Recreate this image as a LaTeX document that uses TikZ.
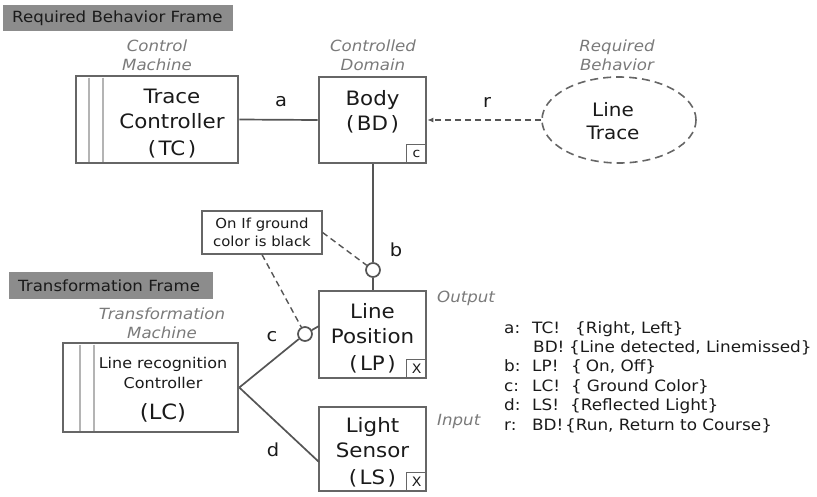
\documentclass[tikz,border=0pt]{standalone}
\usepackage{fontspec}
\setmainfont{DejaVu Sans}[FakeStretch=1.08]
\usetikzlibrary{shapes.geometric,arrows.meta,calc}
\definecolor{boxline}{HTML}{666666}
\definecolor{stripe}{HTML}{B4B4B4}
\definecolor{wire}{HTML}{555555}
\definecolor{roletext}{HTML}{7A7A7A}
\definecolor{bannerfill}{HTML}{8C8C8C}
\definecolor{ink}{HTML}{1A1A1A}
\newcommand\fsz[2]{\fontsize{#1}{#2}\selectfont}
\newcommand\wpar[1]{(\kern2.5pt#1\kern2.5pt)}
\tikzset{
  dombox/.style={draw=boxline, line width=2.6pt, inner sep=0pt, fill=white},
  stripeline/.style={draw=stripe, line width=2pt},
  tagbox/.style={draw=boxline, line width=1.4pt, minimum width=20pt, minimum height=19pt,
    inner sep=0pt, text=ink, font=\fsz{13}{13}},
  boxtext/.style={align=center, text=ink, font=\fsz{19.8}{25}, inner sep=0pt},
  roletxt/.style={align=center, text=roletext, font=\fsz{15.4}{19}\itshape, inner sep=0pt},
  banner/.style={fill=bannerfill, inner sep=0pt},
  bannertxt/.style={anchor=west, text=ink, font=\fsz{15.4}{16}, inner sep=0pt},
  wirel/.style={draw=wire, line width=1.7pt},
  dashl/.style={draw=wire, line width=1.4pt, dash pattern=on 6pt off 4pt},
  port/.style={circle, draw=wire, line width=1.7pt, fill=white, minimum size=14pt, inner sep=0pt},
  lbl/.style={text=ink, font=\fsz{18}{18}, inner sep=0pt},
  legend/.style={anchor=base west, text=ink, font=\fsz{15.6}{16}, inner sep=0pt},
}
\begin{document}
\begin{tikzpicture}[x=1pt,y=-1pt]
\useasboundingbox (0,0) rectangle (817,496);

% frame banners
\node[banner, minimum width=230pt, minimum height=26pt] (bnr1) at (118,18) {};
\node[bannertxt] (bnr1t) at (12,18) {Required Behavior Frame};
\node[banner, minimum width=204pt, minimum height=27pt] (bnr2) at (111,285.5) {};
\node[bannertxt] (bnr2t) at (18,285.5) {Transformation Frame};

% role labels
\node[roletxt] (rcm) at (157,55) {Control\\Machine};
\node[roletxt] (rcd) at (373,55) {Controlled\\Domain};
\node[roletxt] (rrb) at (617,55) {Required\\Behavior};
\node[roletxt] (rtm) at (162,323) {Transformation\\Machine};
\node[roletxt, anchor=west] (rout) at (437,298) {Output};
\node[roletxt, anchor=west] (rin) at (437,421) {Input};

% Trace Controller (machine)
\node[dombox, minimum width=162pt, minimum height=87pt] (tc) at (157,119.5) {};
\draw[stripeline] (89,77.5) -- (89,161.5);
\draw[stripeline] (103,77.5) -- (103,161.5);
\node[boxtext] (tct) at (172,124) {Trace\\Controller\\[2pt]\wpar{TC}};

% Body
\node[dombox, minimum width=107pt, minimum height=86pt] (bd) at (372.5,120) {};
\node[boxtext] (bdt) at (372.5,111.5) {Body\\\wpar{BD}};
\node[tagbox, anchor=south east] (bdc) at (bd.south east) {c};

% Line Trace requirement
\node[ellipse, draw=boxline, line width=1.6pt, dash pattern=on 8pt off 5pt,
      minimum width=154pt, minimum height=86pt] (lt) at (619,120) {};
\node[boxtext, font=\fsz{18.5}{23}] (ltt) at (613,121) {Line\\Trace};

% Line recognition Controller (machine)
\node[dombox, minimum width=175pt, minimum height=89pt] (lc) at (150.5,387.5) {};
\draw[stripeline] (80,344.5) -- (80,430.5);
\draw[stripeline] (94,344.5) -- (94,430.5);
\node[boxtext, font=\fsz{14.8}{20}] (lct1) at (163,373) {Line recognition\\Controller};
\node[boxtext, font=\fsz{21}{21}] (lct2) at (163,413) {(LC)};

% Line Position
\node[dombox, minimum width=107pt, minimum height=87pt] (lp) at (372.5,334.5) {};
\node[boxtext] (lpt) at (372.5,338) {Line\\Position\\[2pt]\wpar{LP}};
\node[tagbox, anchor=south east] (lpx) at (lp.south east) {X};

% Light Sensor
\node[dombox, minimum width=107pt, minimum height=84pt] (ls) at (372.5,449) {};
\node[boxtext] (lst) at (372.5,452) {Light\\Sensor\\[2pt]\wpar{LS}};
\node[tagbox, anchor=south east] (lsx) at (ls.south east) {X};

% interface a
\draw[wirel] (tc.east) -- (bd.west);
\node[lbl] (la) at (281,102) {a};

% requirement reference r
\draw[dashl, -{Latex[length=6pt,width=5pt]}] (lt.west) -- (bd.east);
\node[lbl] (lr) at (487,102) {r};

% interface b with port
\node[port] (pb) at (373,270) {};
\draw[wirel] (bd.south -| pb) -- (pb);
\draw[wirel] (pb) -- (lp.north -| pb);
\node[lbl] (lb) at (396,250) {b};

% interface c with port
\node[port] (pc) at (305,334) {};
\coordinate (lpc) at (319,326);
\draw[wirel] (lc.east) -- (pc);
\draw[wirel] (pc) -- (lpc);
\node[lbl] (lcl) at (272,337) {c};

% interface d
\coordinate (lsd) at (319,462);
\draw[wirel] (lc.east) -- (lsd);
\node[lbl] (ld) at (273,450) {d};

% note
\node[draw=boxline, line width=1.2pt, fill=white, minimum width=120pt, minimum height=43pt,
      align=center, text=ink, font=\fsz{13.8}{18}, inner sep=0pt] (note) at (262,232.5)
      {On If ground\\color is black};
\draw[dashl] (note.east) -- (pb);
\draw[dashl] (note.south) -- (pc);

% phenomena legend
\node[legend] (g1) at (504,333) {\makebox[28pt][l]{a:}\makebox[43pt][l]{TC!}\{Right, Left\}};
\node[legend] (g2) at (533,352) {\makebox[36pt][l]{BD!}\{Line detected, Linemissed\}};
\node[legend] (g3) at (504,371) {\makebox[28pt][l]{b:}\makebox[39pt][l]{LP!}\{\hspace{4pt}On, Off\}};
\node[legend] (g4) at (504,391) {\makebox[28pt][l]{c:}\makebox[39pt][l]{LC!}\{\hspace{5pt}Ground Color\}};
\node[legend] (g5) at (504,410) {\makebox[28pt][l]{d:}\makebox[38pt][l]{LS!}\{Reflected Light\}};
\node[legend] (g6) at (504,430) {\makebox[28pt][l]{r:}\makebox[33pt][l]{BD!}\{Run, Return to Course\}};
\end{tikzpicture}
\end{document}
